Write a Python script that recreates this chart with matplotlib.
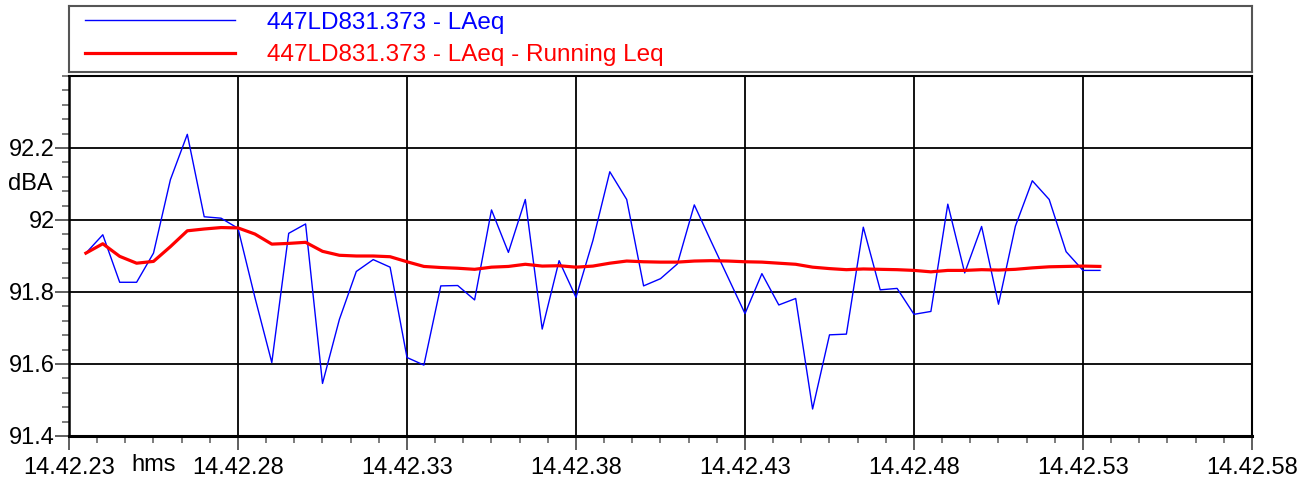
import numpy as np
import matplotlib
matplotlib.use("Agg")
import matplotlib.pyplot as plt
from matplotlib.ticker import FixedLocator, FuncFormatter

plt.rcParams['font.family'] = ['Liberation Sans', 'DejaVu Sans']

# seconds after 14:42:00, one reading every 0.5 s
t_start = 23.5
t_step = 0.5

laeq = [
    91.908, 91.959, 91.827, 91.827, 91.908, 92.112, 92.238, 92.009, 92.005, 91.977,
    91.785, 91.604, 91.963, 91.989, 91.546, 91.724, 91.857, 91.890, 91.869, 91.618,
    91.597, 91.817, 91.818, 91.778, 92.028, 91.910, 92.057, 91.697, 91.887, 91.785,
    91.943, 92.134, 92.057, 91.817, 91.837, 91.878, 92.042, 91.940, 91.840, 91.740,
    91.851, 91.764, 91.782, 91.475, 91.681, 91.683, 91.980, 91.806, 91.810, 91.738,
    91.746, 92.044, 91.853, 91.982, 91.766, 91.983, 92.109, 92.057, 91.912, 91.860,
    91.860,
]

running_leq = [
    91.908, 91.934, 91.899, 91.880, 91.885, 91.926, 91.970, 91.975, 91.979, 91.978,
    91.961, 91.933, 91.935, 91.938, 91.913, 91.902, 91.900, 91.900, 91.898, 91.884,
    91.871, 91.868, 91.866, 91.863, 91.869, 91.871, 91.877, 91.872, 91.873, 91.869,
    91.872, 91.880, 91.886, 91.884, 91.883, 91.883, 91.886, 91.887, 91.886, 91.884,
    91.883, 91.880, 91.877, 91.869, 91.865, 91.862, 91.864, 91.863, 91.862, 91.860,
    91.856, 91.860, 91.860, 91.862, 91.861, 91.863, 91.867, 91.870, 91.871, 91.872,
    91.871,
]

x_major = [23, 28, 33, 38, 43, 48, 53, 58]
y_major = [91.4, 91.6, 91.8, 92.0, 92.2]

t = t_start + t_step * np.arange(len(laeq))

W, H = 1313, 480
fig = plt.figure(figsize=(W / 100, H / 100), dpi=100)

# main plot area
ax = fig.add_axes([69 / W, 1 - 436 / H, (1252 - 69) / W, (436 - 76) / H])
l1, = ax.plot(t, laeq, color='#0000ff', lw=1.0, zorder=3)
l2, = ax.plot(t, running_leq, color='#ff0000', lw=2.3, zorder=4)

ax.set_xlim(23, 58)
ax.set_ylim(91.4, 92.4)

ax.xaxis.set_major_locator(FixedLocator(x_major))
ax.xaxis.set_minor_locator(FixedLocator(np.arange(23, 58.01, 5 / 6)))
ax.xaxis.set_major_formatter(FuncFormatter(lambda v, p: "14.42.%02d" % round(v)))
ax.yaxis.set_major_locator(FixedLocator(y_major))
ax.yaxis.set_minor_locator(FixedLocator(np.arange(91.4, 92.401, 0.04)))
ax.yaxis.set_major_formatter(FuncFormatter(lambda v, p: "%g" % round(v, 2)))

ax.tick_params(axis='both', which='major', length=10, width=1.2, color='#444444',
               labelsize=17, direction='out')
ax.tick_params(axis='y', which='major', pad=0)
ax.tick_params(axis='x', which='major', pad=5)
ax.tick_params(axis='both', which='minor', length=5, width=1.2, color='#666666',
               direction='out')

ax.grid(True, which='major', color='black', lw=1.3)
for s in ax.spines.values():
    s.set_linewidth(1.5)
    s.set_color('black')
ax.spines['bottom'].set_linewidth(2.2)
ax.spines['left'].set_linewidth(1.8)

# unit labels
ax.text(-0.0135, 92.1, "dBA", transform=ax.get_yaxis_transform(), ha='right',
        va='center', fontsize=17)
ax.text(25.5, -0.08, "hms", transform=ax.get_xaxis_transform(), ha='center',
        va='center', fontsize=17)

# legend box above the plot
lax = fig.add_axes([69 / W, 1 - 72 / H, (1252 - 69) / W, (72 - 6) / H])
lax.set_xticks([])
lax.set_yticks([])
for s in lax.spines.values():
    s.set_color('#555555')
    s.set_linewidth(1.5)
lax.legend([l1, l2], ["447LD831.373 - LAeq", "447LD831.373 - LAeq - Running Leq"],
           loc='center left', frameon=False, fontsize=17.5, handlelength=6.2,
           handletextpad=1.3, labelspacing=0.45, borderaxespad=0.25,
           labelcolor='linecolor')

fig.savefig("out.png", dpi=100)
